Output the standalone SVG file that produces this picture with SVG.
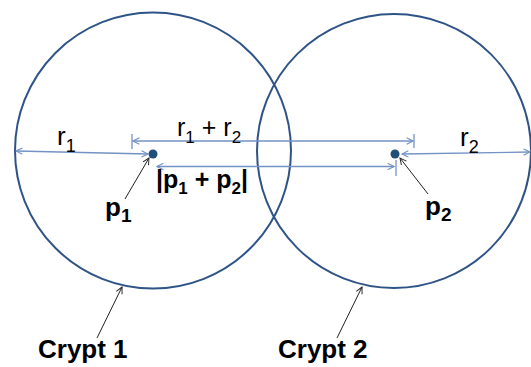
<svg xmlns="http://www.w3.org/2000/svg" width="531" height="367" viewBox="0 0 531 367">
<style>
.crypt{fill:none;stroke:#2e5487;stroke-width:2}
.dim{fill:none;stroke:#7393c4;stroke-width:1.3}
.ptr{fill:none;stroke:#222;stroke-width:1}
.dot{fill:#1f4e79}
.t{font-family:"Liberation Sans",Arial,sans-serif;fill:#000}
.lbl{font-family:"Liberation Sans",Arial,sans-serif;font-weight:bold;fill:#000}
</style>
<defs>
<marker id="ah" viewBox="0 0 10 10" refX="9" refY="5" markerWidth="8" markerHeight="8" markerUnits="userSpaceOnUse" orient="auto-start-reverse">
<path d="M1,1 L9,5 L1,9" fill="none" stroke="#7393c4" stroke-width="1.4"/>
</marker>
<marker id="pa" viewBox="0 0 10 10" refX="9" refY="5" markerWidth="8" markerHeight="8" markerUnits="userSpaceOnUse" orient="auto">
<path d="M1,1 L9,5 L1,9" fill="none" stroke="#222" stroke-width="1.2"/>
</marker>
</defs>
<g id="crypt1">
<circle class="crypt" cx="153" cy="150.5" r="138"/>
<circle class="dot" cx="153" cy="154" r="4.5"/>
</g>
<g id="crypt2">
<circle class="crypt" cx="394" cy="151" r="137"/>
<circle class="dot" cx="395" cy="154" r="4.5"/>
</g>
<g id="connectors">
<line class="dim" x1="16" y1="151" x2="148" y2="154" marker-start="url(#ah)" marker-end="url(#ah)"/>
<line class="dim" x1="133" y1="141" x2="413" y2="141" marker-start="url(#ah)" marker-end="url(#ah)"/>
<line class="dim" x1="132" y1="134" x2="132" y2="149"/>
<line class="dim" x1="414" y1="134" x2="414" y2="148"/>
<line class="dim" x1="157" y1="166.5" x2="394" y2="166.5" marker-start="url(#ah)" marker-end="url(#ah)"/>
<line class="dim" x1="396" y1="160" x2="396" y2="176"/>
<line class="dim" x1="402" y1="154" x2="530" y2="152" marker-start="url(#ah)" marker-end="url(#ah)"/>
<line class="ptr" x1="125" y1="199" x2="149" y2="158" marker-end="url(#pa)"/>
<line class="ptr" x1="428" y1="194" x2="400" y2="158" marker-end="url(#pa)"/>
<line class="ptr" x1="97" y1="338" x2="122" y2="287" marker-end="url(#pa)"/>
<line class="ptr" x1="337" y1="338" x2="362" y2="287" marker-end="url(#pa)"/>
</g>
<g id="labels">
<text class="t" x="57" y="145" font-size="26">r<tspan font-size="18" dy="7">1</tspan></text>
<text class="t" x="177" y="136" font-size="25">r<tspan font-size="17" dy="7">1</tspan><tspan dy="-7"> + r</tspan><tspan font-size="17" dy="7">2</tspan></text>
<text class="t" x="460" y="146" font-size="26">r<tspan font-size="18" dy="7">2</tspan></text>
<text class="lbl" x="156" y="188" font-size="25">|p<tspan font-size="17" dy="6">1</tspan><tspan dy="-6"> + p</tspan><tspan font-size="17" dy="6">2</tspan><tspan dy="-6">|</tspan></text>
<text class="lbl" x="105" y="216" font-size="26">p<tspan font-size="19" dy="6">1</tspan></text>
<text class="lbl" x="425" y="215" font-size="26">p<tspan font-size="19" dy="6">2</tspan></text>
<text class="lbl" x="38" y="358" font-size="26">Crypt 1</text>
<text class="lbl" x="278" y="358" font-size="26">Crypt 2</text>
</g>
</svg>
